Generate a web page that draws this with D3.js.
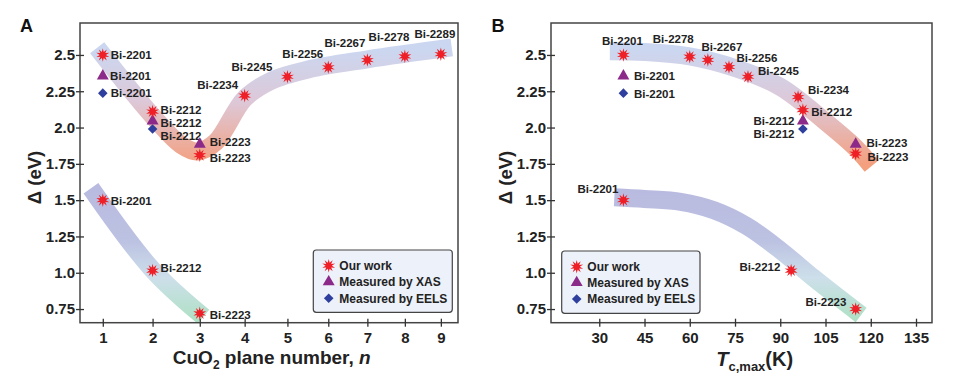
<!DOCTYPE html>
<html>
<head>
<meta charset="utf-8">
<script src="https://cdn.jsdelivr.net/npm/d3@7"></script>
<style>
  body { margin: 0; background: #fff; }
  svg { font-family: "Liberation Sans", Arial, sans-serif; font-weight: bold; }
  .tick text { font-size: 15px; fill: #222; }
  .tick line { stroke: #333; stroke-width: 1.3; }
  .lab { font-size: 11.5px; fill: #222; }
</style>
</head>
<body>
<script>
// ---------- data ----------
// panel A : CuO2 plane number n
var nStar = [1, 2, 3, 4, 5, 6, 7, 8, 9];
var gapStar = [2.5, 2.11, 1.81, 2.22, 2.35, 2.415, 2.465, 2.49, 2.505];
var nameStar = ["Bi-2201", "Bi-2212", "Bi-2223", "Bi-2234", "Bi-2245", "Bi-2256", "Bi-2267", "Bi-2278", "Bi-2289"];
var nXas = [1, 2, 3];
var gapXas = [2.355, 2.045, 1.885];
var nEels = [1, 2];
var gapEels = [2.237, 1.99];
var nLow = [1, 2, 3];
var gapLow = [1.5, 1.015, 0.72];
var nameLow = ["Bi-2201", "Bi-2212", "Bi-2223"];
// guide bands, panel A
var bandUpA = [[0.89, 2.55], [2.0, 2.08], [2.6, 1.88], [2.95, 1.835], [3.35, 1.9], [4.0, 2.2], [4.6, 2.32], [5.5, 2.4], [7, 2.47], [9.31, 2.552]];
var bandLowA = [[0.77, 1.582], [2, 1.02], [3.08, 0.697]];

// panel B : Tc,max (K)
var tcStar = [38, 60, 66, 73, 79.3, 95.9, 97.5, 115];
var gapStarB = [2.5, 2.488, 2.466, 2.417, 2.35, 2.21, 2.12, 1.82];
var nameStarB = ["Bi-2201", "Bi-2278", "Bi-2267", "Bi-2256", "Bi-2245", "Bi-2234", "Bi-2212", "Bi-2223"];
var tcXas = [38, 97.5, 115];
var tcEels = [38, 97.5];
var tcLow = [38, 93.6, 115];
var gapLowB = [1.5, 1.015, 0.75];
var bandUpB = [[33.5, 2.525], [45, 2.52], [60, 2.49], [75, 2.41], [90, 2.28], [105, 2.04], [115, 1.86], [120.3, 1.735]];
var bandLowB = [[35, 1.52], [45, 1.508], [57, 1.488], [68, 1.43], [79, 1.32], [90, 1.155], [101, 0.965], [116.8, 0.709]];

var yTicks = [0.75, 1.0, 1.25, 1.5, 1.75, 2.0, 2.25, 2.5];
var yTickLabels = ["0.75", "1.0", "1.25", "1.5", "1.75", "2.0", "2.25", "2.5"];
var nTicks = [1, 2, 3, 4, 5, 6, 7, 8, 9];
var tcTicks = [30, 45, 60, 75, 90, 105, 120, 135];
var legendLabels = ["Our work", "Measured by XAS", "Measured by EELS"];

// ---------- label placement (dx, dy, anchor) ----------
var posStarA = [[8, 0, "start"], [8, -2, "start"], [10, 3, "start"], [-6.5, -11, "end"], [-15, -10, "end"],
  [-5, -13, "end"], [-2, -16.7, "end"], [-15.8, -19.7, "middle"], [-6, -20.3, "middle"]];
var posXasA = [[7.3, 0, "start"], [8, 2, "start"], [10, -2, "start"]];
var posEelsA = [[8, 0, "start"], [8, 7, "start"]];
var posLowA = [[8, 1, "start"], [8, -3, "start"], [10, 1, "start"]];
var posStarB = [[-1, -14, "middle"], [-16.5, -18, "middle"], [14, -13, "middle"], [7.4, -9, "start"],
  [10, -6.3, "start"], [10, -6.7, "start"], [8.3, 1.4, "start"], [11.7, 2.7, "start"]];
var posXasB = [[10.6, 0, "start"], [-8.4, 0, "end"], [10.7, -1.3, "start"]];
var posEelsB = [[10.6, 0.7, "start"], [-8.4, 4.7, "end"]];
var posLowB = [[-5, -11.3, "end"], [-10.7, -3.3, "end"], [-9.3, -7, "end"]];

var svg = d3.select("body").append("svg")
    .attr("width", 956)
    .attr("height", 384);

var plotTop = 23, plotBottom = 322.7;
var y = d3.scaleLinear().domain([0.656, 2.72]).range([plotBottom, plotTop]);

// panel A x axis is compressed to the right (log of n + shift)
var shift = 16.8;
var xA = d3.scaleLog().domain([0.56 + shift, 9.49 + shift]).range([80, 458]);
function xa(n) { return xA(n + shift); }
var xB = d3.scaleLinear().domain([14, 140.3]).range([551, 932]);
function xb(t) { return xB(t); }

var defs = svg.append("defs");

function gradient(id, stops, y1, y2) {
    var g = defs.append("linearGradient")
        .attr("id", id)
        .attr("gradientUnits", "userSpaceOnUse")
        .attr("x1", 0).attr("x2", 0)
        .attr("y1", y1).attr("y2", y2);
    stops.forEach(function (s) {
        g.append("stop").attr("offset", s[0]).attr("stop-color", s[1]);
    });
}
gradient("gUp", [[0, "#cbd7f0"], [0.45, "#ddc8d8"], [1, "#f49f7e"]], 50, 165);
gradient("gLow", [[0, "#b9badf"], [0.4, "#bcc2e2"], [0.68, "#cddfea"], [1, "#afe1c5"]], 188, 320);

defs.append("clipPath").attr("id", "clipA").append("rect")
    .attr("x", 80).attr("y", plotTop).attr("width", 378).attr("height", plotBottom - plotTop);
defs.append("clipPath").attr("id", "clipB").append("rect")
    .attr("x", 551).attr("y", plotTop).attr("width", 381).attr("height", plotBottom - plotTop);

function starPath(r1, r2, k) {
    var p = [];
    for (var i = 0; i < 2 * k; i++) {
        var a = i * Math.PI / k - Math.PI / 2, r = i % 2 ? r2 : r1;
        p.push([(r * Math.cos(a)).toFixed(2), (r * Math.sin(a)).toFixed(2)]);
    }
    return "M" + p.join("L") + "Z";
}
var STAR = starPath(6.8, 3.1, 10);
var TRI = d3.symbol().type(d3.symbolTriangle).size(62)();
var DIA = d3.symbol().type(d3.symbolSquare).size(46)();

function band(clip, xs, pts, grad) {
    var line = d3.line()
        .x(function (d) { return xs(d[0]); })
        .y(function (d) { return y(d[1]); })
        .curve(d3.curveCatmullRom.alpha(0.5));
    svg.append("path")
        .attr("clip-path", "url(#" + clip + ")")
        .attr("d", line(pts))
        .attr("fill", "none")
        .attr("stroke", "url(#" + grad + ")")
        .attr("stroke-width", 18)
        .attr("stroke-linecap", "butt");
}

function marks(xs, xv, yv, shape, color, names, pos) {
    var rows = xv.map(function (v, i) { return { x: xs(v), y: y(yv[i]), name: names[i], p: pos[i] }; });
    var g = svg.append("g");
    g.selectAll("path").data(rows).enter().append("path")
        .attr("d", shape === "dia" ? DIA : shape === "tri" ? TRI : STAR)
        .attr("fill", color)
        .attr("transform", function (d) {
            return "translate(" + d.x + "," + d.y + ")" + (shape === "dia" ? " rotate(45)" : "");
        });
    g.selectAll("text").data(rows).enter().append("text")
        .attr("class", "lab")
        .attr("x", function (d) { return d.x + d.p[0]; })
        .attr("y", function (d) { return d.y + d.p[1]; })
        .attr("dy", "0.36em")
        .attr("text-anchor", function (d) { return d.p[2]; })
        .text(function (d) { return d.name; });
}

function frame(x0, x1) {
    svg.append("rect")
        .attr("x", x0).attr("y", plotTop)
        .attr("width", x1 - x0).attr("height", plotBottom - plotTop)
        .attr("fill", "none")
        .attr("stroke", "#444")
        .attr("stroke-width", 1.5);
}

function yAxis(x0) {
    var g = svg.append("g")
        .attr("transform", "translate(" + x0 + ",0)")
        .call(d3.axisLeft(y).tickValues(yTicks).tickSize(4).tickPadding(1)
            .tickFormat(function (d, i) { return yTickLabels[i]; }));
    g.select(".domain").remove();
    g.selectAll(".tick line").attr("x1", 4);
}

function xAxis(scale, vals, fmt) {
    var g = svg.append("g")
        .attr("transform", "translate(0," + plotBottom + ")")
        .call(d3.axisBottom(scale).tickValues(vals).tickSize(4).tickPadding(5.6).tickFormat(fmt));
    g.select(".domain").remove();
    g.selectAll(".tick line").attr("y1", -4);
}

function legend(x0, y0, w, h, mx, tx, rows) {
    svg.append("rect")
        .attr("x", x0).attr("y", y0).attr("width", w).attr("height", h)
        .attr("rx", 3)
        .attr("fill", "#edf1f9")
        .attr("stroke", "#444")
        .attr("stroke-width", 1.2);
    var shapes = [[STAR, "#ee1f26", ""], [TRI, "#8b2a89", ""], [DIA, "#2e3f9d", " rotate(45)"]];
    legendLabels.forEach(function (t, i) {
        svg.append("path")
            .attr("d", shapes[i][0])
            .attr("fill", shapes[i][1])
            .attr("transform", "translate(" + mx + "," + rows[i] + ")" + shapes[i][2]);
        svg.append("text")
            .attr("x", tx).attr("y", rows[i]).attr("dy", "0.36em")
            .style("font-size", "12px").attr("fill", "#222")
            .text(t);
    });
}

//////////// PANEL A ////////////
band("clipA", xa, bandUpA, "gUp");
band("clipA", xa, bandLowA, "gLow");
frame(80, 458);
yAxis(80);
xAxis(xA, nTicks.map(function (n) { return n + shift; }), function (d) { return Math.round(d - shift); });
marks(xa, nLow, gapLow, "star", "#ee1f26", nameLow, posLowA);
marks(xa, nEels, gapEels, "dia", "#2e3f9d", nameStar, posEelsA);
marks(xa, nXas, gapXas, "tri", "#8b2a89", nameStar, posXasA);
marks(xa, nStar, gapStar, "star", "#ee1f26", nameStar, posStarA);
legend(313.3, 250, 139, 62.3, 328.7, 339.3, [265.7, 281.9, 298.3]);

//////////// PANEL B ////////////
band("clipB", xb, bandUpB, "gUp");
band("clipB", xb, bandLowB, "gLow");
frame(551, 932);
yAxis(551);
xAxis(xB, tcTicks, d3.format("d"));
marks(xb, tcLow, gapLowB, "star", "#ee1f26", nameLow, posLowB);
marks(xb, tcEels, gapEels, "dia", "#2e3f9d", ["Bi-2201", "Bi-2212"], posEelsB);
marks(xb, tcXas, gapXas, "tri", "#8b2a89", ["Bi-2201", "Bi-2212", "Bi-2223"], posXasB);
marks(xb, tcStar, gapStarB, "star", "#ee1f26", nameStarB, posStarB);
legend(561.7, 251, 138.3, 62.3, 576.7, 587.3, [266.7, 282.6, 299]);

//////////// TITLES ////////////
svg.append("text").attr("x", 26.5).attr("y", 32.3).attr("text-anchor", "middle")
    .style("font-size", "18px").attr("fill", "#111").text("A");
svg.append("text").attr("x", 498).attr("y", 32.3).attr("text-anchor", "middle")
    .style("font-size", "18px").attr("fill", "#111").text("B");

[34, 505].forEach(function (cx) {
    svg.append("text")
        .attr("transform", "translate(" + (cx + 6.5) + ",177.5) rotate(-90)")
        .attr("text-anchor", "middle")
        .style("font-size", "18.5px").attr("fill", "#222")
        .text("\u0394 (eV)");
});

var tA = svg.append("text").attr("x", 271.7).attr("y", 364).attr("text-anchor", "middle")
    .style("font-size", "19px").attr("fill", "#222");
tA.append("tspan").text("CuO");
tA.append("tspan").attr("dy", 5).style("font-size", "12px").text("2");
tA.append("tspan").attr("dy", -5).text(" plane number, ");
tA.append("tspan").style("font-style", "italic").text("n");

var tB = svg.append("text").attr("x", 754.7).attr("y", 366).attr("text-anchor", "middle")
    .style("font-size", "20px").attr("fill", "#222");
tB.append("tspan").style("font-style", "italic").text("T");
tB.append("tspan").attr("dy", 5).style("font-size", "13px").text("c,max");
tB.append("tspan").attr("dy", -5).text("(K)");
</script>
</body>
</html>
